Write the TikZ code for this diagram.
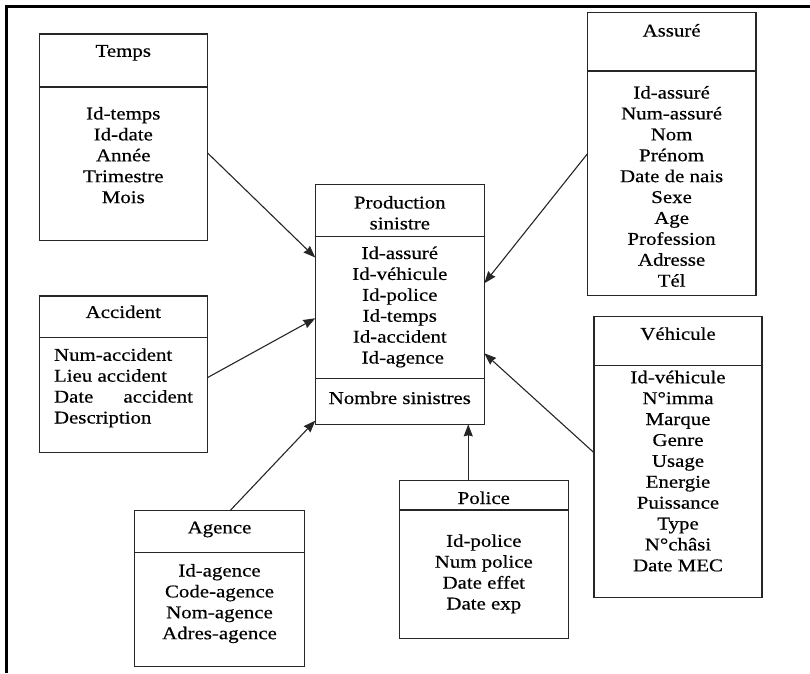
\documentclass[tikz,border=0pt]{standalone}
\usepackage{fontspec}
\setmainfont[FakeStretch=1.16,FakeBold=0.5]{Liberation Serif}
\usetikzlibrary{arrows.meta,calc}
\begin{document}
\begin{tikzpicture}[x=1pt,y=-1pt,
  part/.style={draw=black!85,line width=1.1pt,inner sep=0pt,outer sep=0pt,anchor=north west},
  txt/.style={inner sep=0pt,outer sep=0pt,anchor=north,align=center,
    font=\fontsize{18pt}{20.9pt}\selectfont},
  ltxt/.style={txt,anchor=north west,align=left},
  link/.style={draw=black!85,line width=1.1pt,-{Stealth[length=12pt,width=9pt,inset=1pt]}}]
\useasboundingbox (0,0) rectangle (810,673);
% page frame (top and left edges)
\draw[line width=3pt] (6.5,673) -- (6.5,6.5) -- (810,6.5);

% Temps
\node[part,minimum width=168pt,minimum height=53pt] (tempsH) at (39.3,34) {};
\node[part,minimum width=168pt,minimum height=153.5pt] (tempsB) at (39.3,87) {};
\node[txt] (tempsT) at (123.3,45) {Temps};
\node[txt] (tempsL) at (123.3,107) {Id-temps\\Id-date\\Année\\Trimestre\\Mois};

% Accident
\node[part,minimum width=168pt,minimum height=41.7pt] (accH) at (39.3,296) {};
\node[part,minimum width=168pt,minimum height=115pt] (accB) at (39.3,337.7) {};
\node[txt] (accT) at (123.3,305.5) {Accident};
\node[ltxt] (accL) at (54,348.3) {Num-accident\\Lieu accident\\\hbox to 139pt{Date\hfill accident}\\Description};

% Agence
\node[part,minimum width=169.6pt,minimum height=41.6pt] (agH) at (134.7,510.7) {};
\node[part,minimum width=169.6pt,minimum height=114.4pt] (agB) at (134.7,552.3) {};
\node[txt] (agT) at (219.5,521.5) {Agence};
\node[txt] (agL) at (219.5,564) {Id-agence\\Code-agence\\Nom-agence\\Adres-agence};

% Production sinistre
\node[part,minimum width=169pt,minimum height=52pt] (prodH) at (315.3,184.7) {};
\node[part,minimum width=169pt,minimum height=141.6pt] (prodB) at (315.3,236.7) {};
\node[part,minimum width=169pt,minimum height=46pt] (prodN) at (315.3,378.3) {};
\node[txt] (prodT) at (399.8,196) {Production\\sinistre};
\node[txt] (prodL) at (399.8,246.5) {Id-assuré\\Id-véhicule\\Id-police\\Id-temps\\Id-accident\\\hspace*{6pt}Id-agence};
\node[txt] (prodM) at (399.8,391.5) {Nombre sinistres};

% Police
\node[part,minimum width=169pt,minimum height=29.3pt] (polH) at (399.3,480.7) {};
\node[part,minimum width=169pt,minimum height=128.3pt] (polB) at (399.3,510) {};
\node[txt] (polT) at (483.8,491.5) {Police};
\node[txt] (polL) at (483.8,534.3) {Id-police\\Num police\\Date effet\\Date exp};

% Assuré
\node[part,minimum width=168.7pt,minimum height=58.3pt] (assH) at (587.3,12.7) {};
\node[part,minimum width=168.7pt,minimum height=224.7pt] (assB) at (587.3,71) {};
\node[txt] (assT) at (671.6,24) {Assuré};
\node[txt] (assL) at (671.6,86) {Id-assuré\\Num-assuré\\Nom\\Prénom\\Date de nais\\Sexe\\Age\\Profession\\Adresse\\Tél};

% Véhicule
\node[part,minimum width=168pt,minimum height=49pt] (vehH) at (594,316.7) {};
\node[part,minimum width=168pt,minimum height=232pt] (vehB) at (594,365.7) {};
\node[txt] (vehT) at (678,327.3) {Véhicule};
\node[txt] (vehL) at (678,370.7) {Id-véhicule\\N°imma\\Marque\\Genre\\Usage\\Energie\\Puissance\\Type\\N°châsi\\Date MEC};

% links towards the fact table
\draw[link] ($(tempsB.north east)!0.428!(tempsB.south east)$) -- ($(prodB.north west)!0.147!(prodB.south west)$);
\draw[link] ($(accB.north east)!0.348!(accB.south east)$) -- ($(prodB.north west)!0.576!(prodB.south west)$);
\draw[link] ($(agH.north west)!0.562!(agH.north east)$) -- ($(prodN.north west)!0.92!(prodN.south west)$);
\draw[link] ($(assB.north west)!0.369!(assB.south west)$) -- ($(prodB.north east)!0.329!(prodB.south east)$);
\draw[link] ($(vehB.north west)!0.375!(vehB.south west)$) -- ($(prodB.north east)!0.823!(prodB.south east)$);
\coordinate (polTop) at ($(prodN.south west)!0.905!(prodN.south east)$);
\draw[link] (polTop |- polH.north) -- (polTop);
\end{tikzpicture}
\end{document}
